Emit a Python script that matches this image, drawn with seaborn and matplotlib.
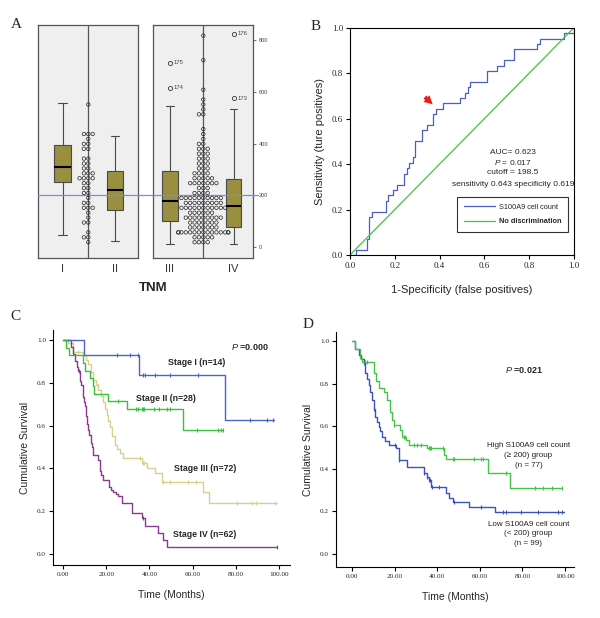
import numpy as np
import pandas as pd
import matplotlib
matplotlib.use("Agg")
import matplotlib.pyplot as plt
import seaborn as sns

# ---------------- data ----------------
# Panel A: S100A9+ cell counts by TNM stage
tnm_labels_left = ["I", "II"]
tnm_labels_right = ["III", "IV"]
cells_I = [45, 150, 220, 245, 265, 280, 300, 320, 350, 380, 400, 430, 440, 555]
cells_II = [25, 45, 60, 95, 100, 120, 135, 145, 155, 165, 170, 185, 205, 215,
            223, 255, 260, 270, 275, 285, 290, 300, 325, 340, 375, 390, 415, 430]
cells_III = [14, 25, 38, 42, 48, 55, 57, 58, 60, 62, 64, 66, 78, 85,
             90, 95, 98, 99, 101, 110, 112, 116, 120, 123, 128, 132, 138,
             143, 147, 151, 156, 160, 164, 168, 172, 175, 180, 182, 185, 188, 191, 194,
             198, 204, 210, 220, 232, 240, 245, 250, 255, 265, 282, 290, 300, 308,
             318, 325, 338, 348, 362, 368, 374, 385, 395, 410, 440, 458, 505, 546, 615, 713]
cells_IV = [14, 22, 35, 40, 45, 50, 54, 56, 58, 60, 62, 65, 67, 70, 73, 75, 80,
            92, 104, 109, 114, 118, 122, 126, 134, 140, 145, 149, 152, 155, 157,
            160, 163, 167, 171, 178, 181, 186, 190, 193, 200, 208, 225, 242, 248, 254,
            267, 268, 270, 274, 280, 288, 312, 322, 344, 365, 372, 390, 512, 535, 576, 824]
outlier_ids_I = []
outlier_ids_II = []
outlier_ids_III = ["174", "175"]
outlier_ids_IV = ["173", "176"]
cutoff_line = 200
count_ticks = [0, 200, 400, 600, 800]

# Panel B: ROC curve
roc_fpr = [0.000, 0.027, 0.074, 0.085, 0.100, 0.160, 0.170, 0.193, 0.208, 0.242,
           0.253, 0.264, 0.282, 0.290, 0.320, 0.342, 0.371, 0.383, 0.413, 0.490,
           0.513, 0.525, 0.535, 0.612, 0.657, 0.686, 0.731, 0.835, 0.850, 0.955, 1.000]
roc_tpr = [0.000, 0.024, 0.071, 0.167, 0.190, 0.238, 0.262, 0.286, 0.310, 0.357,
           0.381, 0.405, 0.429, 0.500, 0.548, 0.571, 0.619, 0.643, 0.667, 0.690,
           0.714, 0.738, 0.762, 0.810, 0.833, 0.857, 0.905, 0.929, 0.952, 0.976, 1.000]
diag = [0.0, 1.0]
cut_fpr, cut_tpr = 0.383, 0.643
roc_ticks = [0.0, 0.2, 0.4, 0.6, 0.8, 1.0]

# Panel C: survival by stage
km1_t = [0, 9.8, 35.3, 75.0, 97.6]
km1_s = [1.0, 0.929, 0.836, 0.627, 0.627]
km1_c = [24.8, 31.0, 34.8, 37.1, 37.9, 42.5, 49.5, 62.6, 86.5, 94.2, 97.2]
km2_t = [0, 1.5, 3.0, 9.5, 10.3, 12.5, 13.7, 14.3, 21.0, 29.4, 55.6, 74.1]
km2_s = [1.0, 0.964, 0.929, 0.893, 0.857, 0.821, 0.786, 0.750, 0.714, 0.679, 0.582, 0.582]
km2_c = [25.6, 33.7, 34.5, 36.7, 37.1, 37.6, 42.1, 44.4, 48.0, 49.5, 61.8, 71.8, 72.9, 74.1]
km3_t = [0, 2.5, 4.8, 9.4, 10.5, 11.7, 12.8, 14.0, 15.2, 16.3, 17.5, 18.6, 19.4, 20.2,
         21.0, 21.7, 22.8, 24.0, 25.2, 26.3, 27.9, 36.4, 38.7, 42.5, 45.6, 64.9, 67.5, 98.8]
km3_s = [1.0, 0.986, 0.944, 0.930, 0.905, 0.890, 0.850, 0.813, 0.790, 0.766, 0.740, 0.712, 0.680, 0.650,
         0.620, 0.595, 0.550, 0.510, 0.490, 0.470, 0.447, 0.424, 0.400, 0.377, 0.338, 0.290, 0.241, 0.241]
km3_c = [7.0, 16.0, 35.6, 36.9, 37.6, 46.4, 49.5, 58.0, 61.3, 80.3, 87.2, 89.5, 98.0]
km4_t = [0, 3.5, 4.7, 5.5, 6.3, 7.1, 7.9, 8.5, 9.1, 9.6, 10.2, 10.8, 11.3, 11.8, 12.2,
         12.8, 13.3, 14.0, 16.4, 17.1, 17.8, 18.4, 21.1, 22.2, 23.3, 24.5, 25.6, 27.1, 31.8,
         36.5, 37.9, 44.0, 46.3, 48.0, 98.8]
km4_s = [1.0, 0.968, 0.935, 0.903, 0.875, 0.855, 0.810, 0.790, 0.735, 0.710, 0.690, 0.645, 0.610, 0.580, 0.555,
         0.520, 0.500, 0.463, 0.440, 0.390, 0.370, 0.346, 0.315, 0.300, 0.290, 0.280, 0.270, 0.237, 0.190,
         0.170, 0.130, 0.100, 0.068, 0.034, 0.034]
km4_c = [7.3, 36.8, 98.8]
stage_names = ["Stage I (n=14)", "Stage II (n=28)", "Stage III (n=72)", "Stage IV (n=62)"]

# Panel D: survival by S100A9 group
hi_t = [0, 1.4, 3.8, 4.6, 10.1, 11.3, 12.5, 14.9, 16.5, 18.0, 18.8, 19.6, 22.7, 23.5,
        25.1, 26.7, 35.4, 43.3, 44.1, 63.8, 74.0, 98.6]
hi_s = [1.0, 0.960, 0.920, 0.900, 0.850, 0.810, 0.780, 0.760, 0.723, 0.667, 0.630, 0.606, 0.582, 0.551,
        0.535, 0.511, 0.496, 0.465, 0.448, 0.382, 0.309, 0.309]
hi_c = [6.2, 7.0, 19.6, 24.3, 25.0, 29.1, 30.6, 32.2, 35.9, 36.5, 37.0, 42.5, 47.2, 48.0,
        57.5, 60.7, 61.3, 72.5, 85.9, 89.8, 93.8, 98.6]
lo_t = [0, 1.4, 3.0, 4.2, 5.4, 6.2, 7.0, 7.7, 8.5, 9.3, 10.1, 10.9, 11.7, 12.5, 13.3, 14.1,
        15.6, 17.2, 20.4, 22.0, 25.9, 33.8, 35.4, 36.2, 37.0, 44.1, 45.7, 47.3, 55.1, 67.0, 99.4]
lo_s = [1.0, 0.960, 0.934, 0.915, 0.895, 0.850, 0.820, 0.793, 0.760, 0.722, 0.680, 0.645, 0.620, 0.598,
        0.575, 0.551, 0.530, 0.512, 0.497, 0.442, 0.410, 0.379, 0.363, 0.347, 0.316, 0.284, 0.265,
        0.245, 0.222, 0.199, 0.199]
lo_c = [5.4, 10.1, 20.1, 22.0, 33.8, 35.4, 36.2, 36.8, 37.4, 40.6, 48.0, 60.7, 70.9, 72.5,
        79.6, 87.5, 97.0, 98.6]
time_ticks = [0, 20, 40, 60, 80, 100]
surv_ticks = [0.0, 0.2, 0.4, 0.6, 0.8, 1.0]

# ---------------- style ----------------
sns.set_theme(style="white")
plt.rcParams["font.family"] = ["Liberation Sans", "DejaVu Sans"]
plt.rcParams["mathtext.fontset"] = "custom"
plt.rcParams["mathtext.it"] = "Liberation Sans:italic"
SERIF = "Liberation Serif"

W, H = 600, 618
fig = plt.figure(figsize=(W / 100, H / 100), dpi=100)
fig.patch.set_facecolor("white")


def R(x0, y0, x1, y1):
    return [x0 / W, 1 - y1 / H, (x1 - x0) / W, (y1 - y0) / H]


# ---------------- Panel A ----------------
OLIVE = "#9a8f3e"
YLIM_A = (-42, 858)
DOT_BIN = 19  # dot-plot bin width (display only)


def tnm_panel(rect, stages, labels, ids, xlim, bw, right_axis, line_ext):
    ax = fig.add_axes(rect)
    ax.set_facecolor("#efefef")
    df = pd.DataFrame({"stage": np.repeat(labels, [len(s) for s in stages]),
                       "count": np.concatenate(stages)})
    sns.boxplot(data=df, x="stage", y="count", order=labels, ax=ax, color=OLIVE,
                saturation=1, width=bw, linecolor="#4a4a4a", linewidth=0.8, whis=1.5,
                fliersize=3,
                medianprops=dict(color="black", linewidth=1.5),
                flierprops=dict(marker="o", markerfacecolor="none",
                                markeredgecolor="#333333", markeredgewidth=0.6))
    for i, (vals, idl) in enumerate(zip(stages, ids)):
        v = np.asarray(vals, float)
        q1, q3 = np.percentile(v, [25, 75])
        outs = np.sort(v[v > q3 + 1.5 * (q3 - q1)])
        for val, lab in zip(outs, idl):
            ax.text(i + 0.06, val, lab, fontsize=4.2, va="center", ha="left", color="#444444")
    ax.set_xlim(*xlim)
    ax.set_ylim(*YLIM_A)
    ax.axhline(cutoff_line, 0, line_ext, color="#6f8fe8", lw=0.9, clip_on=False, zorder=3)
    ax.set_xlabel("")
    ax.set_ylabel("")
    ax.tick_params(axis="x", length=0, labelsize=8, pad=4, labelcolor="#333333")
    for s in ax.spines.values():
        s.set_color("#555555")
        s.set_linewidth(0.9)
    if right_axis:
        ax.yaxis.tick_right()
        ax.set_yticks(count_ticks)
        ax.tick_params(axis="y", right=True, left=False, length=2.5, width=0.6, color="#555555",
                       labelsize=4, labelcolor="#444444", pad=1.5)
    else:
        ax.set_yticks([])
    # dot plot overlay (binned values stacked side by side)
    axs = fig.add_axes(rect, label="swarm" + labels[0])
    axs.patch.set_visible(False)
    allv = np.concatenate(stages).astype(float)
    binned = np.round(allv / DOT_BIN) * DOT_BIN
    sns.swarmplot(y=binned, ax=axs, size=2.5, color="white",
                  edgecolor="#222222", linewidth=0.5, warn_thresh=1.0)
    for c in axs.collections:
        c.set_facecolor("none")
        c.set_edgecolor("#222222")
    axs.set_xlim(-0.8, 0.8)
    axs.set_ylim(*YLIM_A)
    axs.axvline(0, color="#555555", lw=0.9, zorder=0)
    axs.axis("off")
    return ax


tnm_panel(R(38.3, 25, 138.3, 258), [cells_I, cells_II], tnm_labels_left,
          [outlier_ids_I, outlier_ids_II], (-0.46, 1.44), 0.31, False, 1.15)
tnm_panel(R(153.3, 25, 253.3, 258), [cells_III, cells_IV], tnm_labels_right,
          [outlier_ids_III, outlier_ids_IV], (-0.26, 1.31), 0.24, True, 1.05)
fig.text(153 / W, 1 - 288 / H, "TNM", ha="center", va="center", fontsize=9.5, fontweight="bold")

# ---------------- Panel B ----------------
axB = fig.add_axes(R(350, 27.7, 574, 255))
sns.lineplot(x=roc_fpr, y=roc_tpr, ax=axB, color="#4a5fc4", lw=0.9, drawstyle="steps-post",
             sort=False, estimator=None, label="S100A9 cell count")
sns.lineplot(x=diag, y=diag, ax=axB, color="#3ec43e", lw=0.9, sort=False, estimator=None,
             label="No discrimination")
axB.set_xlim(0, 1)
axB.set_ylim(0, 1)
axB.set_xticks(roc_ticks)
axB.set_yticks(roc_ticks)
axB.set_xticklabels([f"{v:.1f}" for v in roc_ticks])
axB.set_yticklabels([f"{v:.1f}" for v in roc_ticks])
axB.tick_params(direction="out", length=3, width=0.8, labelsize=6.5, bottom=True, left=True,
                labelfontfamily=SERIF, pad=2, color="black")
for s in axB.spines.values():
    s.set_color("black")
    s.set_linewidth(0.8)
axB.set_xlabel("1-Specificity (false positives)", fontsize=8)
axB.set_ylabel("Sensitivity (ture positives)", fontsize=8)
axB.xaxis.set_label_coords(0.5, -0.13)
axB.yaxis.set_label_coords(-0.11, 0.5)
leg = axB.legend(loc="upper left", bbox_to_anchor=(0.478, 0.255), fontsize=5.3, frameon=True,
                 fancybox=False, edgecolor="black", borderpad=0.9, labelspacing=1.0,
                 handlelength=4.2, handletextpad=0.6, borderaxespad=0)
leg.get_frame().set_linewidth(0.8)
leg.get_texts()[1].set_fontweight("bold")
axB.text(0.728, 0.449, "AUC= 0.623", ha="center", va="center", fontsize=6)
axB.text(0.728, 0.405, r"$\mathit{P}$ = 0.017", ha="center", va="center", fontsize=6)
axB.text(0.728, 0.365, "cutoff = 198.5", ha="center", va="center", fontsize=6)
axB.text(0.728, 0.308, "sensitivity 0.643 specificity 0.619", ha="center", va="center", fontsize=6)
axB.annotate("", xy=(cut_fpr - 0.005, cut_tpr + 0.012), xytext=(cut_fpr - 0.058, cut_tpr + 0.06),
             arrowprops=dict(arrowstyle="simple,head_length=0.5,head_width=0.55,tail_width=0.25",
                             color="#e8211c", lw=0))


# ---------------- Panels C & D ----------------
def km_axes(rect, xlim, ylim):
    ax = fig.add_axes(rect)
    for s in ["top", "right"]:
        ax.spines[s].set_visible(False)
    for s in ["left", "bottom"]:
        ax.spines[s].set_color("black")
        ax.spines[s].set_linewidth(0.8)
    ax.set_xlim(*xlim)
    ax.set_ylim(*ylim)
    ax.set_xticks(time_ticks)
    ax.set_xticklabels([f"{v:.2f}" for v in time_ticks])
    ax.set_yticks(surv_ticks)
    ax.set_yticklabels([f"{v:.1f}" for v in surv_ticks])
    ax.tick_params(direction="out", length=3, width=0.8, labelsize=5.2, bottom=True, left=True,
                   labelfontfamily=SERIF, pad=2, color="black")
    ax.set_xlabel("Time (Months)", fontsize=7.5)
    ax.set_ylabel("Cumulative Survival", fontsize=7.5)
    ax.xaxis.set_label_coords(0.5, -0.105)
    ax.yaxis.set_label_coords(-0.095, 0.5)
    return ax


def km_curve(ax, t, s, c, color):
    sns.lineplot(x=t, y=s, ax=ax, color=color, lw=1.0, drawstyle="steps-post",
                 sort=False, estimator=None, errorbar=None)
    ta, sa, ca = np.asarray(t), np.asarray(s), np.asarray(c)
    idx = np.searchsorted(ta, ca, side="right") - 1
    sns.scatterplot(x=ca, y=sa[idx], ax=ax, marker="|", s=12, color=color, linewidth=0.8)


axC = km_axes(R(53, 330, 290, 565), (-4.6, 105), (-0.051, 1.047))
C_COLORS = ["#4a63c9", "#3cbf3c", "#d6d08b", "#8a3890"]
km_curve(axC, km3_t, km3_s, km3_c, C_COLORS[2])
km_curve(axC, km4_t, km4_s, km4_c, C_COLORS[3])
km_curve(axC, km1_t, km1_s, km1_c, C_COLORS[0])
km_curve(axC, km2_t, km2_s, km2_c, C_COLORS[1])
axC.text(86.5, 0.967, r"$\mathit{P}$ =0.000", ha="center", va="center", fontsize=6.5, fontweight="bold")
for (tx, ty), name in zip([(62, 0.897), (47.6, 0.729), (65.6, 0.402), (65.6, 0.093)], stage_names):
    axC.text(tx, ty, name, ha="center", va="center", fontsize=6.3, fontweight="bold")

axD = km_axes(R(336, 332, 574, 567), (-7.6, 104.3), (-0.061, 1.042))
km_curve(axD, lo_t, lo_s, lo_c, "#3a52bd")
km_curve(axD, hi_t, hi_s, hi_c, "#45c24a")
axD.text(80.6, 0.864, r"$\mathit{P}$ =0.021", ha="center", va="center", fontsize=6.5, fontweight="bold")
axD.text(82.9, 0.463, "High S100A9 cell count\n(\u2265 200) group\n(n = 77)", ha="center",
         va="center", fontsize=5.8, linespacing=1.55, color="#222222")
axD.text(82.9, 0.094, "Low S100A9 cell count\n(< 200) group\n(n = 99)", ha="center",
         va="center", fontsize=5.8, linespacing=1.55, color="#222222")

# ---------------- panel letters ----------------
for (px, py), letter in zip([(16, 25), (316, 26), (15, 316), (308, 325)], ["A", "B", "C", "D"]):
    fig.text(px / W, 1 - py / H, letter, ha="center", va="center", fontsize=11, family=SERIF)

fig.savefig("out.png", dpi=100)
